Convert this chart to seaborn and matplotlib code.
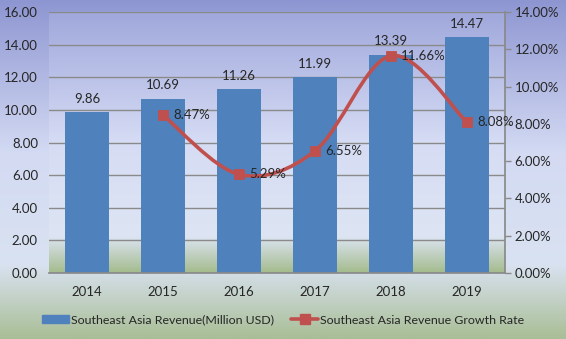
import numpy as np
import pandas as pd
import matplotlib
matplotlib.use("Agg")
import matplotlib.pyplot as plt
import seaborn as sns
from matplotlib.colors import LinearSegmentedColormap
from matplotlib.path import Path
from matplotlib.patches import PathPatch, Patch
from matplotlib.lines import Line2D

years = ["2014", "2015", "2016", "2017", "2018", "2019"]
revenue = [9.86, 10.69, 11.26, 11.99, 13.39, 14.47]
growth_years = ["2015", "2016", "2017", "2018", "2019"]
growth = [8.47, 5.29, 6.55, 11.66, 8.08]
left_ticks = [0, 2, 4, 6, 8, 10, 12, 14, 16]
right_ticks = [0, 2, 4, 6, 8, 10, 12, 14]
bar_label = "Southeast Asia Revenue(Million USD)"
line_label = "Southeast Asia Revenue Growth Rate"

BAR = "#4F81BD"
LINE = "#C0504D"
TXT = "#262626"

sns.set_theme(style="white")
plt.rcParams["font.family"] = ["Lato", "DejaVu Sans"]

fig = plt.figure(figsize=(5.66, 3.39), dpi=100)

# figure background gradient
bg = fig.add_axes([0, 0, 1, 1], zorder=-10)
fig_cmap = LinearSegmentedColormap.from_list(
    "figbg", [(0, "#8E96D2"), (0.45, "#D3DAF3"), (0.78, "#D9E2F1"), (1, "#A9BE96")])
bg.imshow(np.linspace(0, 1, 256).reshape(-1, 1), cmap=fig_cmap, aspect="auto",
          extent=[0, 1, 0, 1], origin="upper")
bg.set_axis_off()

ax = fig.add_axes([49 / 566, 1 - 273 / 339, (505 - 49) / 566, (273 - 12) / 339])
ax.set_xlim(-0.5, 5.5)
ax.set_ylim(0, 16)

plot_cmap = LinearSegmentedColormap.from_list(
    "plotbg", [(0, "#A0A8DC"), (0.5, "#D6DCF4"), (0.86, "#DDE5F3"), (1, "#A4BB8D")])
ax.imshow(np.linspace(0, 1, 256).reshape(-1, 1), cmap=plot_cmap, aspect="auto",
          extent=[-0.5, 5.5, 0, 16], origin="upper", zorder=0)

df = pd.DataFrame({"year": years, "revenue": revenue})
sns.barplot(data=df, x="year", y="revenue", color=BAR, saturation=1, width=0.57,
            edgecolor=BAR, linewidth=0, ax=ax, zorder=3)
ax.set_xlim(-0.5, 5.5)
ax.set_ylim(0, 16)
ax.set_yticks(left_ticks)
ax.set_yticklabels([f"{v:.2f}" for v in left_ticks])
ax.grid(axis="y", color="#8A8A8A", linewidth=1.0, zorder=1)
ax.set_axisbelow(False)
for gl in ax.get_ygridlines():
    gl.set_zorder(1)
ax.set_xlabel("")
ax.set_ylabel("")
for s in ["left", "top", "right"]:
    ax.spines[s].set_visible(False)
ax.spines["bottom"].set_color("#8A8A8A")
ax.spines["bottom"].set_zorder(4)
ax.tick_params(axis="y", length=0, pad=8, labelsize=9.5, labelcolor=TXT)
ax.tick_params(axis="x", length=0, pad=9, labelsize=9.5, labelcolor=TXT)

for i, v in enumerate(revenue):
    ax.text(i, v + 0.45, f"{v:.2f}", ha="center", va="bottom", fontsize=9.5,
            color=TXT, zorder=6)

ax2 = ax.twinx()
ax2.set_ylim(0, 14)
ax2.set_yticks(right_ticks)
ax2.set_yticklabels([f"{v:.2f}%" for v in right_ticks])
for s in ["left", "top", "bottom"]:
    ax2.spines[s].set_visible(False)
ax2.spines["right"].set_color("#8A8A8A")
ax2.tick_params(axis="y", length=4, width=1, color="#8A8A8A", pad=3,
                labelsize=9.5, labelcolor=TXT, direction="out")
ax2.grid(False)

# smooth curve through growth points (Catmull-Rom style Bezier)
xs = np.array([years.index(y) for y in growth_years], dtype=float)
ys = np.array(growth, dtype=float)
pts = np.column_stack([xs, ys])
verts = [tuple(pts[0])]
codes = [Path.MOVETO]
n = len(pts)
for i in range(n - 1):
    p0 = pts[i - 1] if i > 0 else pts[i]
    p1 = pts[i]
    p2 = pts[i + 1]
    p3 = pts[i + 2] if i + 2 < n else pts[i + 1]
    c1 = p1 + (p2 - p0) / 6.0
    c2 = p2 - (p3 - p1) / 6.0
    verts += [tuple(c1), tuple(c2), tuple(p2)]
    codes += [Path.CURVE4] * 3
ax2.add_patch(PathPatch(Path(verts, codes), facecolor="none", edgecolor=LINE,
                        linewidth=2.6, zorder=5, capstyle="round"))
gdf = pd.DataFrame({"x": xs, "g": ys})
sns.scatterplot(data=gdf, x="x", y="g", marker="s", s=55, color=LINE,
                edgecolor=LINE, ax=ax2, zorder=6, legend=False)
ax2.set_xlim(-0.5, 5.5)
ax2.set_ylim(0, 14)
ax2.set_xlabel("")
ax2.set_ylabel("")
for x, v in zip(xs, ys):
    ax2.text(x + 0.13, v, f"{v:.2f}%", ha="left", va="center", fontsize=9.5,
             color=TXT, zorder=7)

handles = [Patch(facecolor=BAR, edgecolor=BAR),
           Line2D([0], [0], color=LINE, linewidth=2.6, marker="s", markersize=7)]
leg = fig.legend(handles, [bar_label, line_label], loc="center",
                 bbox_to_anchor=(0.5, 1 - 320 / 339), ncol=2, frameon=False,
                 fontsize=8.9, handlelength=2.2, handleheight=0.55,
                 columnspacing=1.4, handletextpad=0.15)
for t in leg.get_texts():
    t.set_color(TXT)

fig.savefig("out.png", dpi=100)
